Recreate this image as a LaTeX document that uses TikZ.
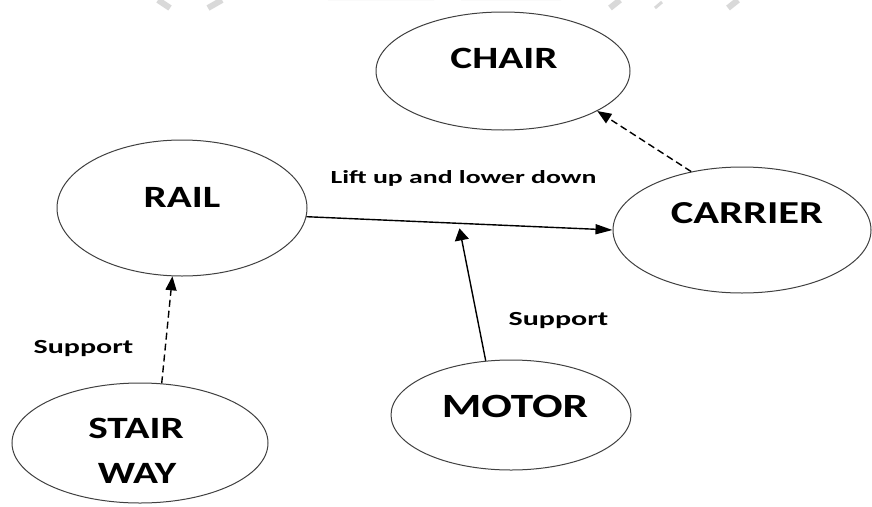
\documentclass[tikz,border=0pt]{standalone}
\usepackage{fontspec}
\setmainfont{Carlito}
\newfontfamily\capsfont[FakeStretch=1.33]{Carlito}
\newfontfamily\notefont[FakeStretch=1.5]{Carlito}
\usetikzlibrary{shapes.geometric,arrows.meta,calc}
\begin{document}
\begin{tikzpicture}[x=1pt,y=-1pt,
  bubble/.style={draw=black!75,line width=1pt,ellipse,inner sep=0pt},
  title/.style={anchor=base,inner sep=0pt,font=\capsfont\bfseries\fontsize{31}{31}\selectfont},
  note/.style={anchor=base,inner sep=0pt,font=\notefont\bfseries\fontsize{18.5}{18.5}\selectfont},
  link/.style={line width=1.4pt,black},
  hlink/.style={link,-{Triangle[length=17pt,width=10pt]}},
  vlink/.style={link,-{Triangle[length=12pt,width=14pt]}},
  dlink/.style={link,dash pattern=on 7pt off 4pt,-{Triangle[length=14pt,width=11pt]}},
  smudge/.style={gray!30,line width=6pt}]
\useasboundingbox (0,0) rectangle (872,506);
\fill[white] (0,0) rectangle (872,506);

% faint shapes along the top edge
\fill[gray!30] (328,0) arc[start angle=180,end angle=360,x radius=53,y radius=7] -- cycle;
\fill[gray!30] (461,0) arc[start angle=180,end angle=360,x radius=50,y radius=7] -- cycle;
\draw[smudge] (158,0) -- (170,8);
\draw[smudge] (222,0) -- (208,8);
\draw[smudge] (620,0) -- (610,8);
\draw[smudge,line width=3pt] (655,8) -- (662,2);
\draw[smudge] (738,0) -- (728,8);

% ellipses
\node[bubble,minimum width=254,minimum height=118] (chair) at (503,71) {};
\node[bubble,minimum width=250,minimum height=136] (rail) at (182,208) {};
\node[bubble,minimum width=258,minimum height=126] (carrier) at (742,230) {};
\node[bubble,minimum width=256,minimum height=120] (stair) at (140,443) {};
\node[bubble,minimum width=240,minimum height=110] (motor) at (511,415) {};

% ellipse texts
\node[title] (chairtxt) at (504,68) {CHAIR};
\node[title] (railtxt) at (182,207) {RAIL};
\node[title,font=\capsfont\bfseries\fontsize{32}{32}\selectfont] (carriertxt) at (747,223) {CARRIER};
\node[title,font=\capsfont\bfseries\fontsize{34}{34}\selectfont] (motortxt) at (515,417) {MOTOR};
\node[title] (stairtxt) at (136,438) {STAIR};
\node[title] (waytxt) at (137,483) {WAY};

% connectors
\draw[hlink] (rail.-4) -- coordinate[pos=0.5] (mid) (carrier.west);
\draw[vlink] (motor.115) -- ($(mid)+(0,5)$);
\draw[dlink] (stair.70) -- (rail.262);
\draw[dlink] (carrier.131) -- (chair.-23);

% connector texts
\node[note] (lift) at (463.5,183) {Lift up and lower down};
\node[note,font=\notefont\bfseries\fontsize{20}{20}\selectfont] (supleft) at (83.5,353) {Support};
\node[note,font=\notefont\bfseries\fontsize{20}{20}\selectfont] (supright) at (558.5,325) {Support};
\end{tikzpicture}
\end{document}
